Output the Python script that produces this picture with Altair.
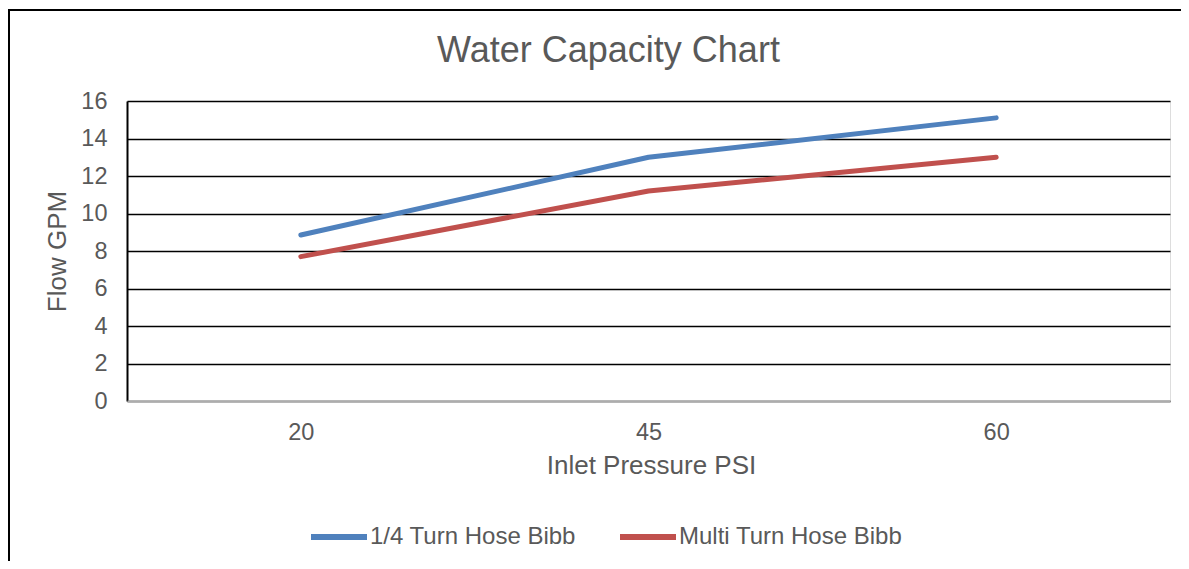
import altair as alt
import pandas as pd

pressure = ["20", "45", "60"]
quarter_turn = [8.85, 13.0, 15.1]
multi_turn = [7.7, 11.2, 13.0]
series_names = ["1/4 Turn Hose Bibb", "Multi Turn Hose Bibb"]
series_colors = ["#4F81BD", "#C0504D"]
y_ticks = [0, 2, 4, 6, 8, 10, 12, 14, 16]

rows = []
for name, vals in zip(series_names, [quarter_turn, multi_turn]):
    for p, v in zip(pressure, vals):
        rows.append({"pressure": p, "flow": v, "series": name})
df = pd.DataFrame(rows)

FONT = "Liberation Sans"
GRAY = "#595959"

lines = alt.Chart(df).mark_line(strokeWidth=5, strokeCap="round", strokeJoin="round").encode(
    x=alt.X("pressure:O", sort=pressure,
            scale=alt.Scale(type="point", padding=0.5),
            axis=alt.Axis(title="Inlet Pressure PSI", labelAngle=0, labelBaseline="alphabetic",
                          labelPadding=38, ticks=False, tickSize=0, domainColor="#ADADAD",
                          domainWidth=2, grid=False, zindex=1, labelFont=FONT, labelFontSize=23.5,
                          labelColor=GRAY, titleFont=FONT, titleFontSize=26, titleFontWeight="normal",
                          titleColor=GRAY, titleX=524, titleY=72, titleBaseline="alphabetic",
                          titleAlign="center")),
    y=alt.Y("flow:Q", scale=alt.Scale(domain=[0, 16], nice=False),
            axis=alt.Axis(title="Flow GPM", values=y_ticks, grid=True, gridColor="black",
                          gridWidth=1.5, domainColor="black", domainWidth=2, ticks=False, tickSize=0,
                          labelPadding=20, labelFont=FONT, labelFontSize=23.5, labelColor=GRAY,
                          titleFont=FONT, titleFontSize=26, titleFontWeight="normal", titleColor=GRAY,
                          titleAngle=-90, titleX=-62, titleY=150, titleBaseline="alphabetic",
                          titleAlign="center")),
    color=alt.Color("series:N", sort=series_names,
                    scale=alt.Scale(domain=series_names, range=series_colors),
                    legend=alt.Legend(orient="none", legendX=181, legendY=405, direction="horizontal",
                                      title=None, symbolType="stroke", symbolStrokeWidth=6,
                                      symbolSize=3136, labelFont=FONT, labelFontSize=24,
                                      labelLimit=400, labelColor=GRAY, labelOffset=0,
                                      columnPadding=32, padding=0)),
)

border = alt.Chart(pd.DataFrame({"k": [0]})).mark_rect(
    fillOpacity=0, stroke="black", strokeWidth=2
).encode(x=alt.value(-118), x2=alt.value(1100), y=alt.value(-91), y2=alt.value(600))

chart = alt.layer(border, lines).properties(
    width=1043, height=300,
    title=alt.TitleParams("Water Capacity Chart", font=FONT, fontSize=36, fontWeight="normal",
                          color=GRAY, anchor="middle", frame="group", dx=-40,
                          baseline="alphabetic", offset=-89),
    autosize=alt.AutoSizeParams(type="none"),
    padding={"left": 119, "top": 93, "right": 11, "bottom": 160},
).configure_view(stroke="black", strokeWidth=2).configure(background="white")

chart.save("out.html", embed_options={"renderer": "svg", "actions": False})
